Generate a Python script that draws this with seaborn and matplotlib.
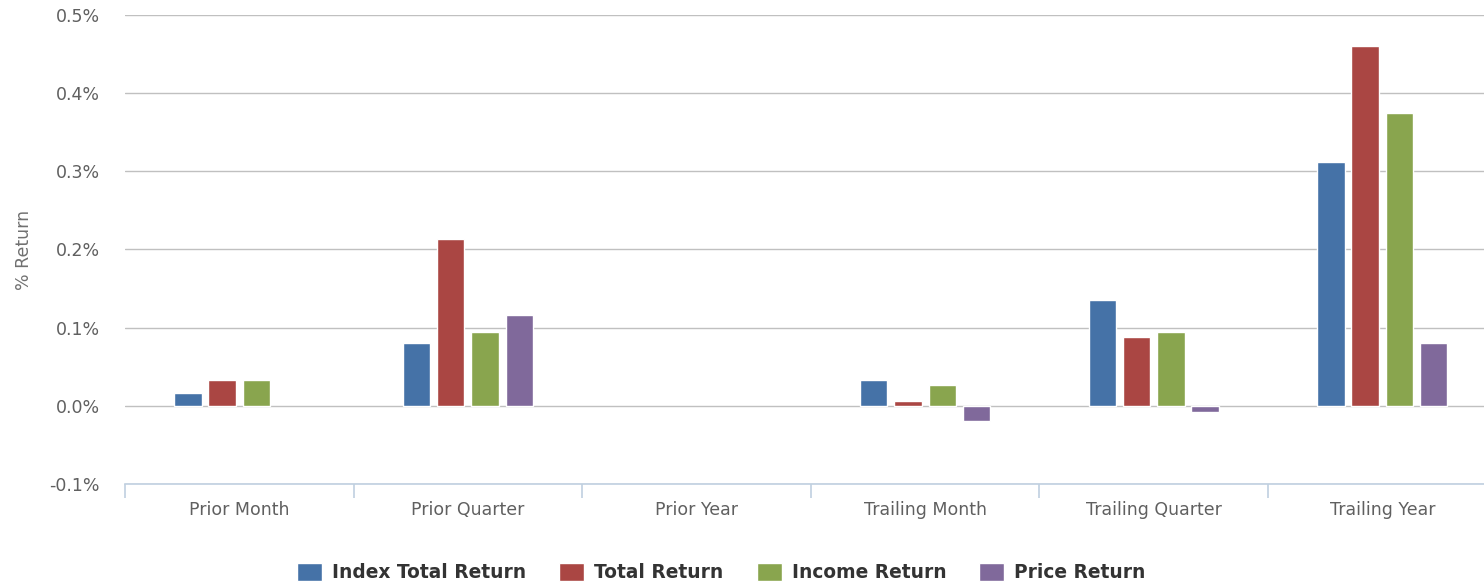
import numpy as np
import pandas as pd
import matplotlib
matplotlib.use("Agg")
import matplotlib.pyplot as plt
import seaborn as sns
from matplotlib.patches import Patch
from matplotlib.ticker import FuncFormatter

periods = ['Prior Month', 'Prior Quarter', 'Prior Year',
           'Trailing Month', 'Trailing Quarter', 'Trailing Year']
series = ['Index Total Return', 'Total Return', 'Income Return', 'Price Return']
colors = ['#4572A7', '#AA4643', '#89A54E', '#80699B']

# values in percent, None = no bar
index_total = [0.017, 0.081, None, 0.033, 0.135, 0.312]
total_return = [0.033, 0.213, None, 0.0065, 0.088, 0.460]
income_return = [0.033, 0.095, None, 0.027, 0.094, 0.375]
price_return = [None, 0.116, None, -0.020, -0.008, 0.080]

rows = []
for name, vals in zip(series, [index_total, total_return, income_return, price_return]):
    for p, v in zip(periods, vals):
        if v is not None:
            rows.append({'period': p, 'series': name, 'value': v})
df = pd.DataFrame(rows)

sns.set_style("white")
plt.rcParams['font.family'] = ['DejaVu Sans']

fig = plt.figure(figsize=(14.84, 5.85), dpi=100)
ax = fig.add_axes([125 / 1484, 101 / 585, 1 - 125 / 1484, 469 / 585])

sns.barplot(data=df, x='period', y='value', hue='series', order=periods,
            hue_order=series, palette=colors, width=0.6, gap=0.2,
            edgecolor='white', linewidth=1, errorbar=None, legend=False,
            saturation=1, ax=ax)

ax.set_yticks(np.arange(-0.1, 0.51, 0.1))
ax.yaxis.set_major_formatter(FuncFormatter(lambda v, _: f"{v:.1f}%"))
ax.set_axisbelow(True)
ax.yaxis.grid(True, color='#C0C0C0', linewidth=1)

for s in ['top', 'right', 'left']:
    ax.spines[s].set_visible(False)
ax.spines['bottom'].set_color('#C0D0E0')
ax.spines['bottom'].set_linewidth(1.2)

# category separators as minor ticks
ax.set_xticks(np.arange(-0.5, 6, 1), minor=True)
ax.set_xlim(-0.5, 5.445)
ax.set_ylim(-0.1, 0.5)
ax.tick_params(axis='x', which='minor', bottom=True, length=10, color='#C0D0E0',
               width=1.2, direction='out')
ax.tick_params(axis='x', which='major', length=0, pad=12, labelsize=12.5, labelcolor='#606060')
ax.tick_params(axis='y', length=0, pad=18, labelsize=12.5, labelcolor='#606060')

ax.set_xlabel('')
ax.set_ylabel('% Return', fontsize=12.5, color='#707070')
ax.yaxis.set_label_coords(-0.0677, 0.5)

handles = [Patch(facecolor=c, edgecolor='white', label=n) for c, n in zip(colors, series)]
fig.legend(handles=handles, loc='center', bbox_to_anchor=(0.4862, 0.021), ncol=4,
           frameon=False, handlelength=1.34, handleheight=1.1, handletextpad=0.54,
           columnspacing=1.77,
           prop={'family': ['DejaVu Sans'], 'weight': 'bold', 'size': 13.4})
for t in fig.legends[0].get_texts():
    t.set_color('#333333')

fig.savefig('out.png', dpi=100)
